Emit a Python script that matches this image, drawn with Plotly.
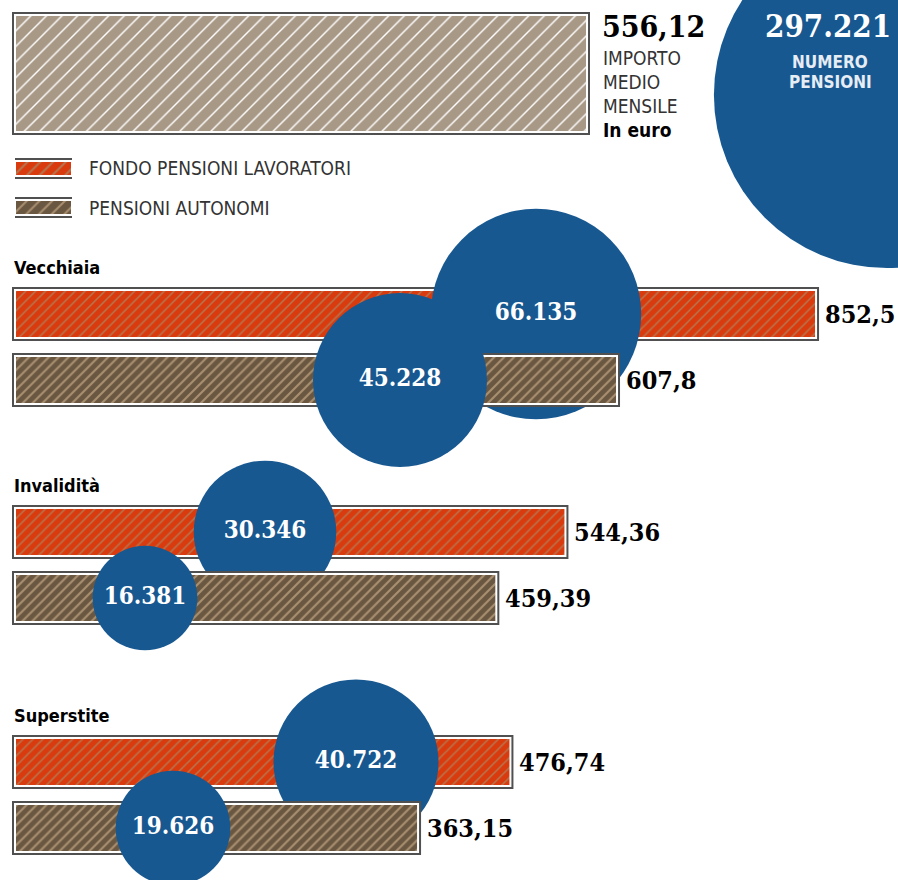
import plotly.graph_objects as go

W, H = 898, 880

# ---------------- data ----------------
categories = ["Vecchiaia", "Invalidità", "Superstite"]
series_names = ["FONDO PENSIONI LAVORATORI", "PENSIONI AUTONOMI"]
importo_fp = [852.5, 544.36, 476.74]      # importo medio mensile, euro
importo_aut = [607.8, 459.39, 363.15]
numero_fp = [66135, 30346, 40722]         # numero pensioni
numero_aut = [45228, 16381, 19626]
totale_importo = 556.12
totale_numero = 297221
key_text = ["IMPORTO", "MEDIO", "MENSILE"]
key_unit = "In euro"
bubble_key = ["NUMERO", "PENSIONI"]

# ---------------- layout constants ----------------
ZERO_PX = 122.7          # pixel where 0 euro would sit
SCALE = 0.8133           # px per euro (category bars)
TOP_SCALE = 0.8349       # px per euro (key bar)
BAR_LEFT_PX = 15
GROUP_TOP_PX = [287, 505, 735]
BAR_W = 48
ROW_STEP = 66
TOP_BAR_Y, TOP_BAR_W = 73.5, 117
CIRCLE_PX_FP = [536, 265, 356]
CIRCLE_PX_AUT = [400, 145, 173]
BUBBLE_K = 0.818
TOTAL_BUBBLE_K = 0.635
TOTAL_BUBBLE_PX = (887, 95)

BLUE = "#185891"
FP_BG, FP_FG = "#d93b0e", "#b5764f"
AUT_BG, AUT_FG = "#6a5741", "#a88f70"
TOP_BG, TOP_FG = "#a89886", "#ffffff"
FRAME = "#505050"

SERIF = "DejaVu Serif Condensed, Liberation Serif, serif"
NARROW = "Liberation Sans Narrow, DejaVu Sans Condensed, sans-serif"


def val(px, scale):
    return (px - ZERO_PX) / scale


def xrange_for(scale):
    return [val(0, scale), val(W, scale)]


def fmt_euro(v):
    return f"{v}".replace(".", ",")


def fmt_num(n):
    return f"{n:,}".replace(",", ".")


fp_y = [t + BAR_W / 2 + 3 for t in GROUP_TOP_PX]
aut_y = [y + ROW_STEP for y in fp_y]
base_main = val(BAR_LEFT_PX, SCALE)
base_top = val(BAR_LEFT_PX, TOP_SCALE)

fig = go.Figure()


def add_bar(xs, ys, base, width, bg, fg, psize, sol, xa, ya):
    fig.add_trace(go.Bar(
        x=[v - base for v in xs], y=ys, base=base, width=width, orientation="h",
        marker=dict(color=FRAME, line=dict(color=FRAME, width=6)),
        xaxis=xa, yaxis=ya, hoverinfo="skip"))
    fig.add_trace(go.Bar(
        x=[v - base for v in xs], y=ys, base=base, width=width, orientation="h",
        marker=dict(color=bg, line=dict(color="white", width=2),
                    pattern=dict(shape="/", bgcolor=bg, fgcolor=fg, size=psize,
                                 solidity=sol, fillmode="replace")),
        xaxis=xa, yaxis=ya, hoverinfo="skip"))


def add_bubbles(xs_px, ys, nums, k, scale, xa, ya, tsize):
    fig.add_trace(go.Scatter(
        x=[val(p, scale) for p in xs_px], y=ys, mode="markers+text",
        marker=dict(size=[k * n ** 0.5 for n in nums], color=BLUE, opacity=1,
                    line=dict(width=0)),
        text=[fmt_num(n) for n in nums], textposition="middle center",
        textfont=dict(family=SERIF, size=tsize, color="white", weight="bold"),
        xaxis=xa, yaxis=ya, hoverinfo="skip", cliponaxis=False))


# layer 1: key bar + big bubble
add_bar([totale_importo], [TOP_BAR_Y], base_top, TOP_BAR_W, TOP_BG, TOP_FG, 11, 0.13, "x", "y")
fig.add_trace(go.Scatter(
    x=[val(TOTAL_BUBBLE_PX[0], TOP_SCALE)], y=[TOTAL_BUBBLE_PX[1]], mode="markers",
    marker=dict(size=TOTAL_BUBBLE_K * totale_numero ** 0.5, color=BLUE, opacity=1, line=dict(width=0)),
    xaxis="x", yaxis="y", hoverinfo="skip", cliponaxis=False))
# layer 2: FP bars
add_bar(importo_fp, fp_y, base_main, BAR_W, FP_BG, FP_FG, 7, 0.22, "x2", "y2")
# layer 3: FP bubbles
add_bubbles(CIRCLE_PX_FP, fp_y, numero_fp, BUBBLE_K, SCALE, "x3", "y3", 24)
# layer 4: AUT bars
add_bar(importo_aut, aut_y, base_main, BAR_W, AUT_BG, AUT_FG, 7, 0.3, "x4", "y4")
# layer 5: AUT bubbles
add_bubbles(CIRCLE_PX_AUT, aut_y, numero_aut, BUBBLE_K, SCALE, "x5", "y5", 24)

# legend key swatches (own small subplot)
for name, bg, fg in [(series_names[0], FP_BG, FP_FG), (series_names[1], AUT_BG, AUT_FG)]:
    fig.add_trace(go.Bar(x=[1], y=[name], orientation="h", width=0.385,
                         marker=dict(color=FRAME, line=dict(color=FRAME, width=6)),
                         xaxis="x6", yaxis="y6", hoverinfo="skip"))
    fig.add_trace(go.Bar(x=[1], y=[name], orientation="h", width=0.385,
                         marker=dict(color=bg, line=dict(color="white", width=2),
                                     pattern=dict(shape="/", bgcolor=bg, fgcolor=fg, size=9,
                                                  solidity=0.22, fillmode="replace")),
                         xaxis="x6", yaxis="y6", hoverinfo="skip"))

ann = []


def px_ann(text, xpx, ypx, size, family, color="black", xanchor="left", weight="normal"):
    ann.append(dict(text=text, x=xpx / W, y=1 - ypx / H, xref="paper", yref="paper",
                    xanchor=xanchor, yanchor="middle", showarrow=False,
                    font=dict(family=family, size=size, color=color, weight=weight)))


# key texts
px_ann(fmt_euro(totale_importo), 600, 27, 30, SERIF, weight="bold")
for i, t in enumerate(key_text):
    px_ann(t, 601, 58 + 24 * i, 19, NARROW, color="#333333")
px_ann(key_unit, 601, 130, 19, NARROW, weight="bold")
px_ann(fmt_num(totale_numero), 828, 26, 31, SERIF, color="white", xanchor="center", weight="bold")
for i, t in enumerate(bubble_key):
    px_ann(t, 830, 62 + 20 * i, 17, NARROW, color="#e6edf5", xanchor="center", weight="bold")
# legend texts
for i, t in enumerate(series_names):
    px_ann(t, 87, 168 + 39.5 * i, 19, NARROW, color="#333333")
# category titles
for c, t in zip(categories, GROUP_TOP_PX):
    px_ann(c, 12, t - 20, 18, NARROW, weight="bold")
# value labels
for vals, ys, xa, ya in [(importo_fp, fp_y, "x2", "y2"), (importo_aut, aut_y, "x4", "y4")]:
    for v, y in zip(vals, ys):
        ann.append(dict(text=fmt_euro(v), x=v, y=y, xref=xa, yref=ya, xanchor="left",
                        yanchor="middle", xshift=7, showarrow=False,
                        font=dict(family=SERIF, size=25, color="black", weight="bold")))

ax_common = dict(visible=False, showgrid=False, zeroline=False, fixedrange=True)
layout = dict(
    width=W, height=H, margin=dict(l=0, r=0, t=0, b=0),
    paper_bgcolor="white", plot_bgcolor="white", showlegend=False, barmode="overlay",
    annotations=ann,
    xaxis=dict(range=xrange_for(TOP_SCALE), domain=[0, 1], anchor="y", **ax_common),
    yaxis=dict(range=[H, 0], domain=[0, 1], anchor="x", **ax_common),
    xaxis6=dict(range=[0, 1], domain=[BAR_LEFT_PX / W, 72 / W], anchor="y6", **ax_common),
    yaxis6=dict(domain=[1 - 227 / H, 1 - 149 / H], anchor="x6", type="category",
                categoryorder="array", categoryarray=series_names[::-1], **ax_common),
)
for i in range(2, 6):
    layout[f"xaxis{i}"] = dict(range=xrange_for(SCALE), overlaying="x", anchor=f"y{i}", **ax_common)
    layout[f"yaxis{i}"] = dict(range=[H, 0], overlaying="y", anchor=f"x{i}", **ax_common)

fig.update_layout(**layout)
fig.write_html("out.html")
